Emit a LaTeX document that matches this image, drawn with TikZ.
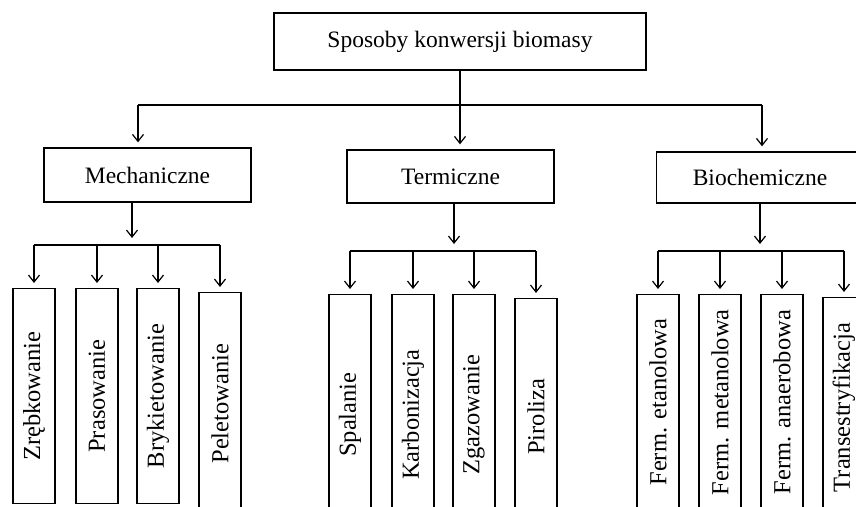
\documentclass[tikz,border=0pt]{standalone}
\usepackage{fontspec}
\setmainfont{Liberation Serif}
\usetikzlibrary{arrows.meta}

\tikzset{
  box/.style={draw, line width=1.3pt, inner sep=0pt, font=\fontsize{23.5}{27}\selectfont},
  catbox/.style={box, minimum width=207pt, minimum height=53pt},
  leafbox/.style={box, rotate=90, anchor=east, minimum height=42pt, font=\fontsize{24.5}{28}\selectfont},
  link/.style={line width=1.3pt},
  arr/.style={line width=1.3pt, -{Straight Barb[length=7pt,width=11pt,line width=1.2pt]}, shorten >=5pt},
}

\begin{document}
\begin{tikzpicture}[x=1pt, y=-1pt]
\useasboundingbox (0,0) rectangle (856,506);
\clip (0,0) rectangle (856,506);

% top
\node[box, minimum width=372pt, minimum height=57pt] (top) at (460,41.5) {Sposoby konwersji biomasy};

% categories
\node[catbox, minimum height=54pt] (mech) at (147.5,175) {Mechaniczne};
\node[catbox] (term) at (450.5,176.5) {Termiczne};
\node[catbox, minimum height=51pt] (bio) at (760,177.5) {Biochemiczne};

\coordinate (mj) at (138,105);
\coordinate (tj) at (460,105);
\coordinate (bj) at (762,105);
\draw[link] (top.south) -- (top.south |- tj);
\draw[link] (mj) -- (bj);
\draw[arr] (mj) -- (mj |- mech.north);
\draw[arr] (tj) -- (tj |- term.north);
\draw[arr] (bj) -- (bj |- bio.north);

% mechaniczne
\node[leafbox, minimum width=215pt] (zre) at (34,288) {Zrębkowanie};
\node[leafbox, minimum width=215pt] (pra) at (97,288) {Prasowanie};
\node[leafbox, minimum width=215pt] (bry) at (158,288) {Brykietowanie};
\node[leafbox, minimum width=222pt] (pel) at (220,292) {Peletowanie};

\coordinate (mbar) at (132,245);
\draw[arr, shorten >=7pt] (mbar |- mech.south) -- (mbar);
\draw[link] (zre.east |- mbar) -- (pel.east |- mbar);
\draw[arr] (zre.east |- mbar) -- (zre.east);
\draw[arr] (pra.east |- mbar) -- (pra.east);
\draw[arr] (bry.east |- mbar) -- (bry.east);
\draw[arr] (pel.east |- mbar) -- (pel.east);

% termiczne
\node[leafbox, minimum width=240pt] (spa) at (350,294) {Spalanie};
\node[leafbox, minimum width=240pt] (kar) at (413,294) {Karbonizacja};
\node[leafbox, minimum width=240pt] (zga) at (474,294) {Zgazowanie};
\node[leafbox, minimum width=236pt] (pir) at (536,298) {Piroliza};

\coordinate (tbar) at (454,251);
\draw[arr, shorten >=7pt] (tbar |- term.south) -- (tbar);
\draw[link] (spa.east |- tbar) -- (pir.east |- tbar);
\draw[arr] (spa.east |- tbar) -- (spa.east);
\draw[arr] (kar.east |- tbar) -- (kar.east);
\draw[arr] (zga.east |- tbar) -- (zga.east);
\draw[arr] (pir.east |- tbar) -- (pir.east);

% biochemiczne
\node[leafbox, minimum width=215pt] (fet) at (658,294) {Ferm. etanolowa};
\node[leafbox, minimum width=215pt] (fme) at (720,294) {Ferm. metanolowa};
\node[leafbox, minimum width=215pt] (fan) at (782,294) {Ferm. anaerobowa};
\node[leafbox, minimum width=220pt] (tra) at (844,297) {Transestryfikacja};

\coordinate (bbar) at (760,251);
\draw[arr, shorten >=7pt] (bbar |- bio.south) -- (bbar);
\draw[link] (fet.east |- bbar) -- (tra.east |- bbar);
\draw[arr] (fet.east |- bbar) -- (fet.east);
\draw[arr] (fme.east |- bbar) -- (fme.east);
\draw[arr] (fan.east |- bbar) -- (fan.east);
\draw[arr] (tra.east |- bbar) -- (tra.east);
\end{tikzpicture}
\end{document}
